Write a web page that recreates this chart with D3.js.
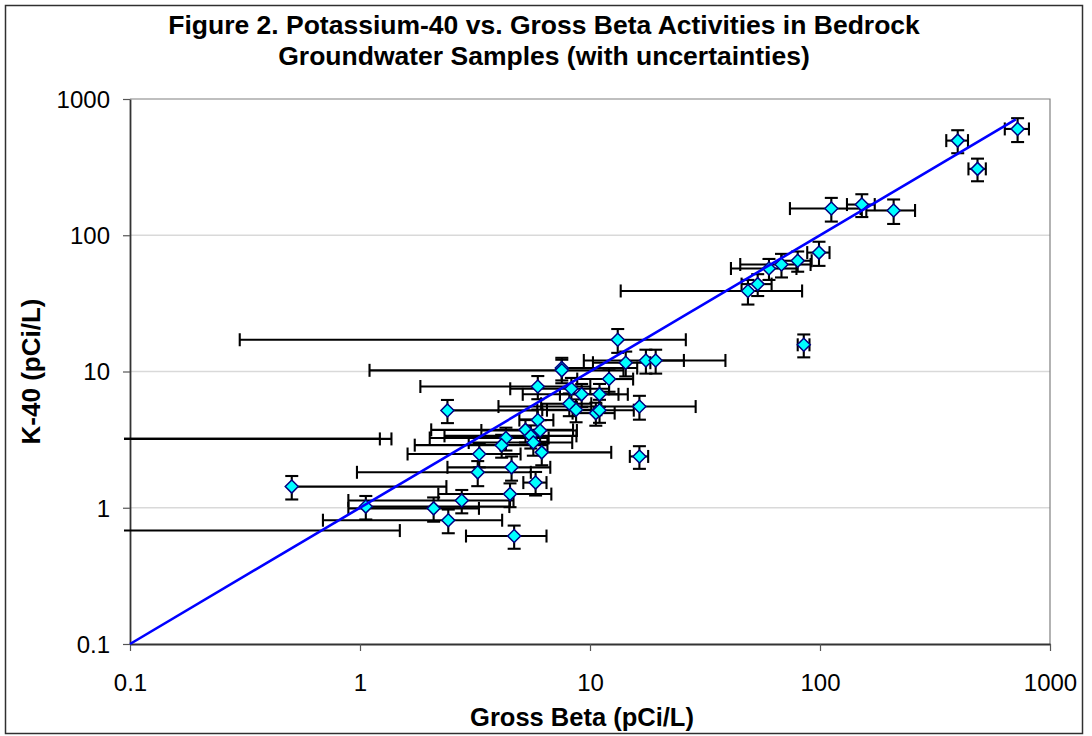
<!DOCTYPE html>
<html>
<head>
<meta charset="utf-8">
<script src="https://cdn.jsdelivr.net/npm/d3@7"></script>
<style>
  html, body { margin: 0; padding: 0; background: #fff; }
  svg { display: block; font-family: "Liberation Sans", Arial, sans-serif; }
</style>
</head>
<body>
<svg id="chart" width="1092" height="736"></svg>
<script>
// ---- Data ----
const titleLines = ["Figure 2. Potassium-40 vs. Gross Beta Activities in Bedrock",
                    "Groundwater Samples (with uncertainties)"];
const xAxisTitle = "Gross Beta (pCi/L)";
const yAxisTitle = "K-40 (pCi/L)";
const tickValues = [0.1, 1, 10, 100, 1000];
const tickLabels = ["0.1", "1", "10", "100", "1000"];

// Gross beta activity (pCi/L) and its uncertainty
const grossBeta = [723, 397, 484, 112, 152, 209, 99, 80, 68, 60, 53.6, 48.6, 85, 13.2, 14.3, 17.5, 19.3,
  7.54, 7.54, 12.1, 5.93, 8.3, 9.2, 11.0, 8.13, 8.7, 10.6, 11.0, 16.4, 2.40, 5.93, 5.24, 6.07, 5.53,
  4.31, 5.67, 4.13, 6.17, 3.30, 4.56, 3.25, 16.4, 5.8, 4.49, 2.77, 2.09, 2.42, 4.68, 0.505, 1.06,
  0.05, 0.05, 0.05];
const grossBetaErr = [87, 43, 42, 38, 21, 50, 11, 12, 23, 19, 8, 35, 5, 12.9, 4, 8.1, 19.5,
  8.5, 6.44, 3.3, 4.1, 3.8, 4.1, 3.6, 2.0, 2.5, 2.2, 4.5, 12.4, 3.5, 1.0, 3.2, 2.7, 3.2,
  2.3, 2.7, 2.4, 6.2, 1.69, 2.16, 2.28, 1.5, 0.67, 2.3, 1.88, 1.2, 1.73, 1.79, 1.87, 3.4,
  1.17, 1.32, 1.44];
// Potassium-40 activity (pCi/L) and its uncertainty
const k40 = [603, 495, 307, 157, 168, 152, 74.6, 65, 61, 57, 43.8, 39, 15.7, 17.1, 11.6, 12.05, 12.05,
  10.6, 10.2, 8.8, 7.76, 7.47, 6.8, 6.8, 5.8, 5.24, 4.95, 5.2, 5.53, 5.18, 4.4, 3.73, 3.69, 3.37,
  3.25, 3.01, 2.88, 2.55, 2.48, 1.98, 1.82, 2.38, 1.53, 1.26, 1.13, 0.99, 0.81, 0.62, 1.43, 1.02,
  3.2, 3.2, 0.68];
const k40Err = [120, 95, 58, 31, 32, 31, 15, 11, 12, 10, 8, 8, 3, 3.4, 2.4, 2.4, 2.4,
  2, 2, 1.7, 1.5, 1.5, 1.3, 1.3, 1.1, 1.0, 0.95, 1.0, 1.1, 1.0, 0.85, 0.72, 0.7, 0.65,
  0.62, 0.6, 0.55, 0.5, 0.5, 0.4, 0.38, 0.45, 0.3, 0.25, 0.22, 0.2, 0.16, 0.12, 0.28, 0.2,
  0.6, 0.6, 0.13];
// 1:1 reference line
const lineX = [0.1, 710];
const lineY = [0.1, 710];

// ---- Layout ----
const W = 1092, H = 736;
const plot = { left: 130, right: 1050, top: 99, bottom: 644 };

const svg = d3.select("#chart");

// outer frame
svg.append("rect").attr("x", 5.5).attr("y", 5.5).attr("width", 1077).attr("height", 728)
  .attr("fill", "#fff").attr("stroke", "#303030").attr("stroke-width", 1.5);

const x = d3.scaleLog().domain([0.1, 1000]).range([plot.left, plot.right]);
const y = d3.scaleLog().domain([0.1, 1000]).range([plot.bottom, plot.top]);

// gridlines (horizontal, at major decades)
svg.append("g").selectAll("line").data(tickValues.slice(1, -1)).join("line")
  .attr("x1", plot.left).attr("x2", plot.right)
  .attr("y1", d => y(d)).attr("y2", d => y(d))
  .attr("stroke", "#d9d9d9").attr("stroke-width", 1.5);

// plot-area border (top and right, gray)
svg.append("path")
  .attr("d", `M${plot.left},${plot.top}H${plot.right}V${plot.bottom}`)
  .attr("fill", "none").attr("stroke", "#808080").attr("stroke-width", 1.2);

// axes
const xAxis = d3.axisBottom(x).tickValues(tickValues).tickFormat((d, i) => tickLabels[i])
  .tickSize(7).tickSizeOuter(0).tickPadding(12);
const yAxis = d3.axisLeft(y).tickValues(tickValues).tickFormat((d, i) => tickLabels[i])
  .tickSize(7).tickSizeOuter(0).tickPadding(12);

const gx = svg.append("g").attr("transform", `translate(0,${plot.bottom})`).call(xAxis);
const gy = svg.append("g").attr("transform", `translate(${plot.left},0)`).call(yAxis);
[gx, gy].forEach(g => {
  g.select(".domain").attr("stroke", "#333").attr("stroke-width", 1.8);
  g.selectAll(".tick line").attr("stroke", "#555").attr("stroke-width", 1.2);
  g.selectAll(".tick text").attr("fill", "#000").style("font-size", "24px")
    .style("font-family", '"Liberation Sans", Arial, sans-serif');
});
gx.selectAll(".tick text").attr("dy", "0.72em").attr("y", 30);
gy.selectAll(".tick text").attr("x", -20).attr("dy", "0.35em");

// clip for data
svg.append("clipPath").attr("id", "clip").append("rect")
  .attr("x", plot.left - 6).attr("y", plot.top - 8)
  .attr("width", plot.right - plot.left + 14).attr("height", plot.bottom - plot.top + 14);

const data = grossBeta.map((v, i) => ({ gb: v, gbe: grossBetaErr[i], k: k40[i], ke: k40Err[i] }));

const dataG = svg.append("g").attr("clip-path", "url(#clip)");
const cap = 6.5;
const eb = dataG.append("g").attr("stroke", "#000").attr("stroke-width", 2.1).attr("fill", "none");

data.forEach(d => {
  const cx = x(d.gb), cy = y(d.k);
  // horizontal (gross beta) error bar
  const hiX = x(d.gb + d.gbe);
  eb.append("line").attr("x1", cx).attr("x2", hiX).attr("y1", cy).attr("y2", cy);
  eb.append("line").attr("x1", hiX).attr("x2", hiX).attr("y1", cy - cap).attr("y2", cy + cap);
  if (d.gb - d.gbe > 0) {
    const loX = x(d.gb - d.gbe);
    eb.append("line").attr("x1", loX).attr("x2", cx).attr("y1", cy).attr("y2", cy);
    eb.append("line").attr("x1", loX).attr("x2", loX).attr("y1", cy - cap).attr("y2", cy + cap);
  }
  // vertical (K-40) error bar
  const hiY = y(d.k + d.ke);
  eb.append("line").attr("x1", cx).attr("x2", cx).attr("y1", cy).attr("y2", hiY);
  eb.append("line").attr("x1", cx - cap).attr("x2", cx + cap).attr("y1", hiY).attr("y2", hiY);
  if (d.k - d.ke > 0) {
    const loY = y(d.k - d.ke);
    eb.append("line").attr("x1", cx).attr("x2", cx).attr("y1", cy).attr("y2", loY);
    eb.append("line").attr("x1", cx - cap).attr("x2", cx + cap).attr("y1", loY).attr("y2", loY);
  }
});

// 1:1 line
svg.append("path")
  .datum(lineX.map((v, i) => [v, lineY[i]]))
  .attr("d", d3.line().x(d => x(d[0])).y(d => y(d[1])))
  .attr("fill", "none").attr("stroke", "#0000ff").attr("stroke-width", 2.6);

// markers
const r = 6.5;
dataG.append("g").selectAll("path").data(data).join("path")
  .attr("transform", d => `translate(${x(d.gb)},${y(d.k)})`)
  .attr("d", `M0,${-r}L${r},0L0,${r}L${-r},0Z`)
  .attr("fill", "#00ffff").attr("stroke", "#000080").attr("stroke-width", 1.5);

// titles
const title = svg.append("text").attr("text-anchor", "middle")
  .style("font-weight", "bold").style("font-size", "26.5px");
titleLines.forEach((t, i) => {
  title.append("tspan").attr("x", 544).attr("y", 34 + i * 31).text(t);
});

svg.append("text").attr("x", (plot.left + plot.right) / 2 - 8).attr("y", 726)
  .attr("text-anchor", "middle").style("font-weight", "bold").style("font-size", "25.5px")
  .text(xAxisTitle);

svg.append("text")
  .attr("transform", `translate(40,${(plot.top + plot.bottom) / 2}) rotate(-90)`)
  .attr("text-anchor", "middle").style("font-weight", "bold").style("font-size", "26px")
  .text(yAxisTitle);
</script>
</body>
</html>
